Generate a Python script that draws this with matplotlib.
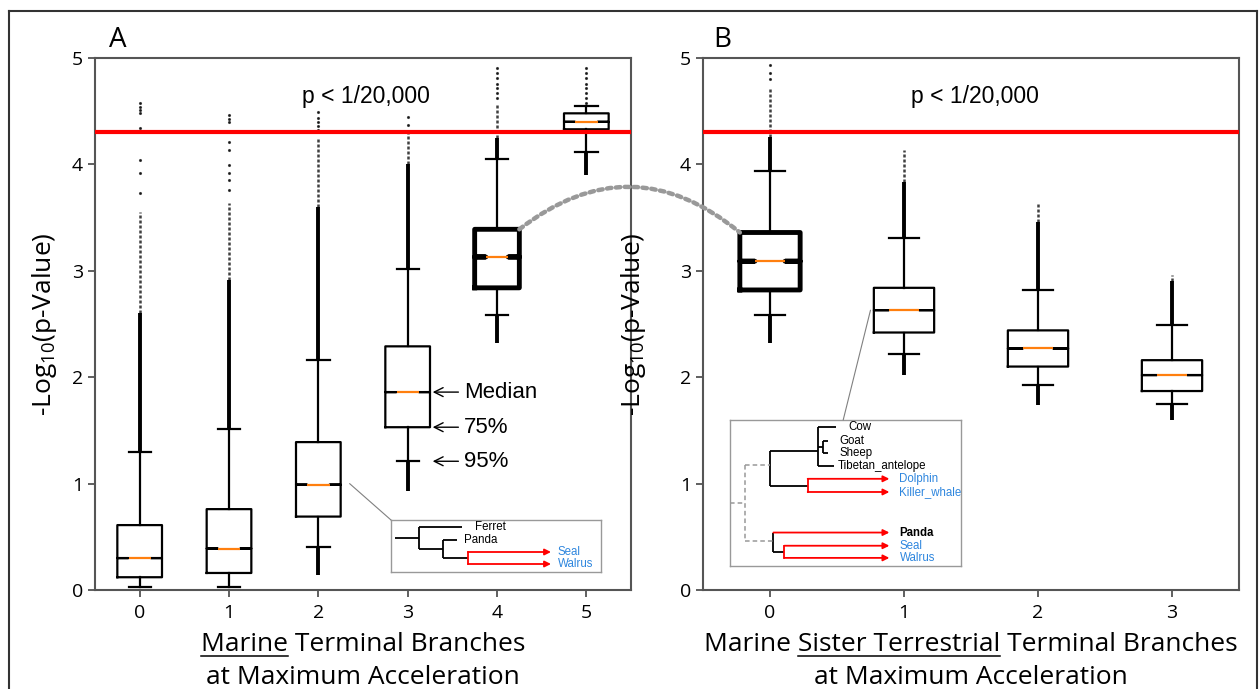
import numpy as np
import matplotlib
matplotlib.use("Agg")
import matplotlib.pyplot as plt
from matplotlib.patches import ConnectionPatch
from matplotlib.lines import Line2D

plt.rcParams['font.family'] = ['Open Sans', 'DejaVu Sans']
plt.rcParams['mathtext.default'] = 'regular'

# ---- panel A: marine terminal branches at max acceleration
a_pos = [0, 1, 2, 3, 4, 5]
a_med = [0.30, 0.39, 0.99, 1.86, 3.13, 4.40]
a_q1 = [0.12, 0.16, 0.69, 1.53, 2.84, 4.33]
a_q3 = [0.61, 0.76, 1.39, 2.29, 3.39, 4.48]
a_whislo = [0.03, 0.03, 0.40, 1.21, 2.58, 4.12]
a_whishi = [1.30, 1.51, 2.16, 3.02, 4.05, 4.55]
a_dense_hi = [2.60, 2.91, 3.60, 4.00, 4.25, 4.55]   # thick band of outliers above
a_semi_hi = [3.55, 3.64, 4.26, 4.30, 4.58, 4.55]    # thinner band above that
a_dense_lo = [0.03, 0.03, 0.14, 0.93, 2.32, 3.90]   # outliers below
a_dots = [[3.73, 3.92, 4.04, 4.34, 4.48, 4.51, 4.54, 4.58],
          [3.76, 3.85, 3.92, 3.99, 4.14, 4.21, 4.40, 4.43, 4.46],
          [4.32, 4.36, 4.40, 4.44, 4.49],
          [4.37, 4.45],
          [4.62, 4.67, 4.72, 4.76, 4.81, 4.86, 4.91],
          [4.58, 4.62, 4.67, 4.72, 4.76, 4.81, 4.86, 4.91]]

# ---- panel B: marine sister terrestrial terminal branches
b_pos = [0, 1, 2, 3]
b_med = [3.09, 2.63, 2.27, 2.02]
b_q1 = [2.82, 2.42, 2.10, 1.87]
b_q3 = [3.36, 2.84, 2.44, 2.16]
b_whislo = [2.58, 2.22, 1.93, 1.75]
b_whishi = [3.94, 3.31, 2.82, 2.49]
b_dense_hi = [4.26, 3.83, 3.46, 2.90]
b_semi_hi = [4.73, 4.14, 3.63, 2.96]
b_dense_lo = [2.32, 2.02, 1.74, 1.60]
b_dots = [[4.80, 4.86, 4.93], [], [], []]

thick_a = 4
thick_b = 0
cutoff = -np.log10(1 / 20000)

W, H = 1260, 689
fig = plt.figure(figsize=(12.6, 6.89), dpi=100)
axA = fig.add_axes([95 / W, 1 - 590 / H, 536 / W, 532 / H])
axB = fig.add_axes([703 / W, 1 - 590 / H, 536 / W, 532 / H])


def draw_panel(ax, pos, med, q1, q3, lo, hi, dhi, shi, dlo, dots, thick):
    width = float(np.clip(0.15 * np.ptp(pos), 0.15, 0.5))
    # outliers
    for i, p in enumerate(pos):
        if dhi[i] > hi[i]:
            ax.vlines(p, hi[i], dhi[i], color='k', lw=2.8, zorder=1)
        if shi[i] > dhi[i]:
            ax.vlines(p, dhi[i], shi[i], color='k', lw=1.8, alpha=0.75,
                      linestyles=[(0, (1.2, 0.8))], zorder=1)
        if dlo[i] < lo[i]:
            ax.vlines(p, dlo[i], lo[i], color='k', lw=2.8, zorder=1)
        if dots[i]:
            ax.plot([p] * len(dots[i]), dots[i], '.', color='k', ms=2.5,
                    alpha=0.7, zorder=1)
    for i, p in enumerate(pos):
        st = [dict(med=med[i], q1=q1[i], q3=q3[i], whislo=lo[i], whishi=hi[i],
                   cilo=med[i] - 0.0005, cihi=med[i] + 0.0005, fliers=[])]
        blw = 3.5 if i == thick else 1.6
        ax.bxp(st, positions=[p], widths=[width], shownotches=True,
               showfliers=False, manage_ticks=False,
               boxprops=dict(color='k', lw=blw),
               whiskerprops=dict(color='k', lw=1.6),
               capprops=dict(color='k', lw=1.6),
               medianprops=dict(color='#ff7f0e', lw=1.6), zorder=2)
    ax.axhline(cutoff, color='#ff0000', lw=3, zorder=5)
    ax.set_xlim(pos[0] - 0.5, pos[-1] + 0.5)
    ax.set_ylim(0, 5)
    ax.set_xticks(pos)
    ax.set_yticks([0, 1, 2, 3, 4, 5])
    ax.tick_params(labelsize=14, length=5, width=1.2, color='#444444')
    ax.tick_params(axis='x', pad=5)
    for s in ax.spines.values():
        s.set_color('#555555')
        s.set_linewidth(1.5)
    ax.set_ylabel('-Log$_{10}$(p-Value)', fontsize=19)


draw_panel(axA, a_pos, a_med, a_q1, a_q3, a_whislo, a_whishi, a_dense_hi,
           a_semi_hi, a_dense_lo, a_dots, thick_a)
draw_panel(axB, b_pos, b_med, b_q1, b_q3, b_whislo, b_whishi, b_dense_hi,
           b_semi_hi, b_dense_lo, b_dots, thick_b)
axA.yaxis.set_label_coords(-0.068, 0.5)
axB.yaxis.set_label_coords(-0.102, 0.5)

txt_font = ['Liberation Sans', 'DejaVu Sans']
axA.text(2.53, 4.64, 'p < 1/20,000', ha='center', va='center', fontsize=16.5,
         family=txt_font)
axB.text(1.53, 4.64, 'p < 1/20,000', ha='center', va='center', fontsize=16.5,
         family=txt_font)

# percentile annotations on box 3
for yv, lab in [(a_med[3], 'Median'), (a_q1[3], '75%'), (a_whislo[3], '95%')]:
    axA.annotate(lab, xy=(3.28, yv), xytext=(3.63, yv), va='center',
                 fontsize=16, family=txt_font,
                 arrowprops=dict(arrowstyle='->', color='k', lw=1,
                                 shrinkA=2, shrinkB=0))

# dotted link between equivalent boxes
link = ConnectionPatch(xyA=(4.25, a_q3[4]), coordsA=axA.transData,
                       xyB=(-0.225, b_q3[0]), coordsB=axB.transData,
                       connectionstyle='arc3,rad=-0.4', color='#999999',
                       lw=3.2, linestyle=(0, (1, 1)), zorder=10)
fig.add_artist(link)

# ---- tree insets
blue = '#2e86de'
tree_font = ['Liberation Sans', 'DejaVu Sans']

insA = fig.add_axes([391 / W, 1 - 572 / H, 210 / W, 52 / H])
insA.set_xlim(0, 210)
insA.set_ylim(52, 0)
insB = fig.add_axes([730 / W, 1 - 566 / H, 231 / W, 146 / H])
insB.set_xlim(0, 229)
insB.set_ylim(144, 0)
for ins in (insA, insB):
    ins.set_xticks([])
    ins.set_yticks([])
    for s in ins.spines.values():
        s.set_color('#999999')
        s.set_linewidth(1)

treeA_black = [[(4, 18), (28, 18)], [(28, 7), (28, 29)], [(28, 7), (71, 7)],
               [(28, 29), (52, 29)], [(52, 20), (52, 38)], [(52, 20), (66, 20)],
               [(52, 38), (77, 38)]]
treeA_red = [[(77, 32), (77, 44)]]
treeA_arrows = [(77, 32, 160), (77, 44, 160)]
treeA_labels = [(84, 7, 'Ferret', 'k', 'normal'), (73, 20, 'Panda', 'k', 'normal'),
                (167, 32, 'Seal', blue, 'normal'), (167, 44, 'Walrus', blue, 'normal')]

treeB_black = [[(87, 7), (87, 45)], [(87, 7), (105, 7)], [(87, 27), (92, 27)],
               [(92, 21), (92, 33)], [(92, 21), (97, 21)], [(92, 33), (97, 33)],
               [(87, 45), (103, 45)], [(40, 31), (87, 31)], [(40, 31), (40, 65)],
               [(40, 65), (77, 65)], [(43, 111), (43, 130)], [(43, 130), (54, 130)]]
treeB_dashed = [[(0, 82), (15, 82)], [(15, 44), (15, 119)], [(15, 44), (40, 44)],
                [(15, 119), (43, 119)]]
treeB_red = [[(77, 58), (77, 71)], [(54, 124), (54, 136)]]
treeB_arrows = [(77, 58, 158), (77, 71, 158), (43, 111, 158), (54, 124, 158),
                (54, 136, 158)]
treeB_labels = [(117, 7, 'Cow', 'k', 'normal'), (108, 21, 'Goat', 'k', 'normal'),
                (109, 33, 'Sheep', 'k', 'normal'),
                (107, 45, 'Tibetan_antelope', 'k', 'normal'),
                (168, 58, 'Dolphin', blue, 'normal'),
                (168, 71, 'Killer_whale', blue, 'normal'),
                (168, 111, 'Panda', 'k', 'bold'), (168, 124, 'Seal', blue, 'normal'),
                (168, 136, 'Walrus', blue, 'normal')]


def draw_tree(ax, black, red, arrows, labels, dashed=()):
    for seg in black:
        ax.plot(*zip(*seg), color='k', lw=1.3, solid_capstyle='butt')
    for seg in dashed:
        ax.plot(*zip(*seg), color='#999999', lw=1.1, ls=(0, (3, 2)))
    for seg in red:
        ax.plot(*zip(*seg), color='#ff0000', lw=1.3)
    for x0, y0, x1 in arrows:
        ax.annotate('', xy=(x1, y0), xytext=(x0, y0),
                    arrowprops=dict(arrowstyle='-|>', color='#ff0000', lw=1.3,
                                    shrinkA=0, shrinkB=0, mutation_scale=9))
    for x, y, s, c, w in labels:
        ax.text(x, y, s, color=c, fontweight=w, fontsize=8.3, va='center',
                family=tree_font)


draw_tree(insA, treeA_black, treeA_red, treeA_arrows, treeA_labels)
draw_tree(insB, treeB_black, treeB_red, treeB_arrows, treeB_labels, treeB_dashed)

# thin connectors from boxes to insets
for ax, xy, ins, xyi in [(axA, (2.35, 1.0), insA, (0, 1)),
                         (axB, (0.75, 2.63), insB, (0.49, 1))]:
    fig.add_artist(ConnectionPatch(xyA=xy, coordsA=ax.transData, xyB=xyi,
                                   coordsB=ins.transAxes, color='#808080', lw=0.8))

# panel letters
fig.text(118 / W, 1 - 40 / H, 'A', ha='center', va='center', fontsize=20)
fig.text(722 / W, 1 - 40 / H, 'B', ha='center', va='center', fontsize=20)

# x labels with underlined words
renderer = fig.canvas.get_renderer()
XL = 19


def text_w(s, size):
    t = fig.text(0, 0, s, fontsize=size)
    w = t.get_window_extent(renderer).width
    t.remove()
    return w


def underlined(xc, yc, before, under, after, size=XL):
    t = fig.text(xc / W, 1 - yc / H, before + under + after, ha='center',
                 va='baseline', fontsize=size)
    bb = t.get_window_extent(renderer)
    x1 = bb.x0 + text_w(before + under, size)
    x0 = x1 - text_w(under, size)
    yu = H - yc - 5
    fig.add_artist(Line2D([x0 / W, x1 / W], [yu / H, yu / H], color='k', lw=1.1,
                          transform=fig.transFigure))


underlined(363, 651, '', 'Marine', ' Terminal Branches')
fig.text(363 / W, 1 - 684 / H, 'at Maximum Acceleration', ha='center',
         va='baseline', fontsize=XL)
underlined(971, 651, 'Marine ', 'Sister Terrestrial', ' Terminal Branches')
fig.text(971 / W, 1 - 684 / H, 'at Maximum Acceleration', ha='center',
         va='baseline', fontsize=XL)

# outer frame
for xs, ys in [([9, 9], [689, 11]), ([9, 1257], [11, 11]), ([1257, 1257], [11, 689])]:
    fig.add_artist(Line2D([x / W for x in xs], [1 - y / H for y in ys],
                          color='#333333', lw=1.5, transform=fig.transFigure))

fig.savefig('out.png', dpi=100)
